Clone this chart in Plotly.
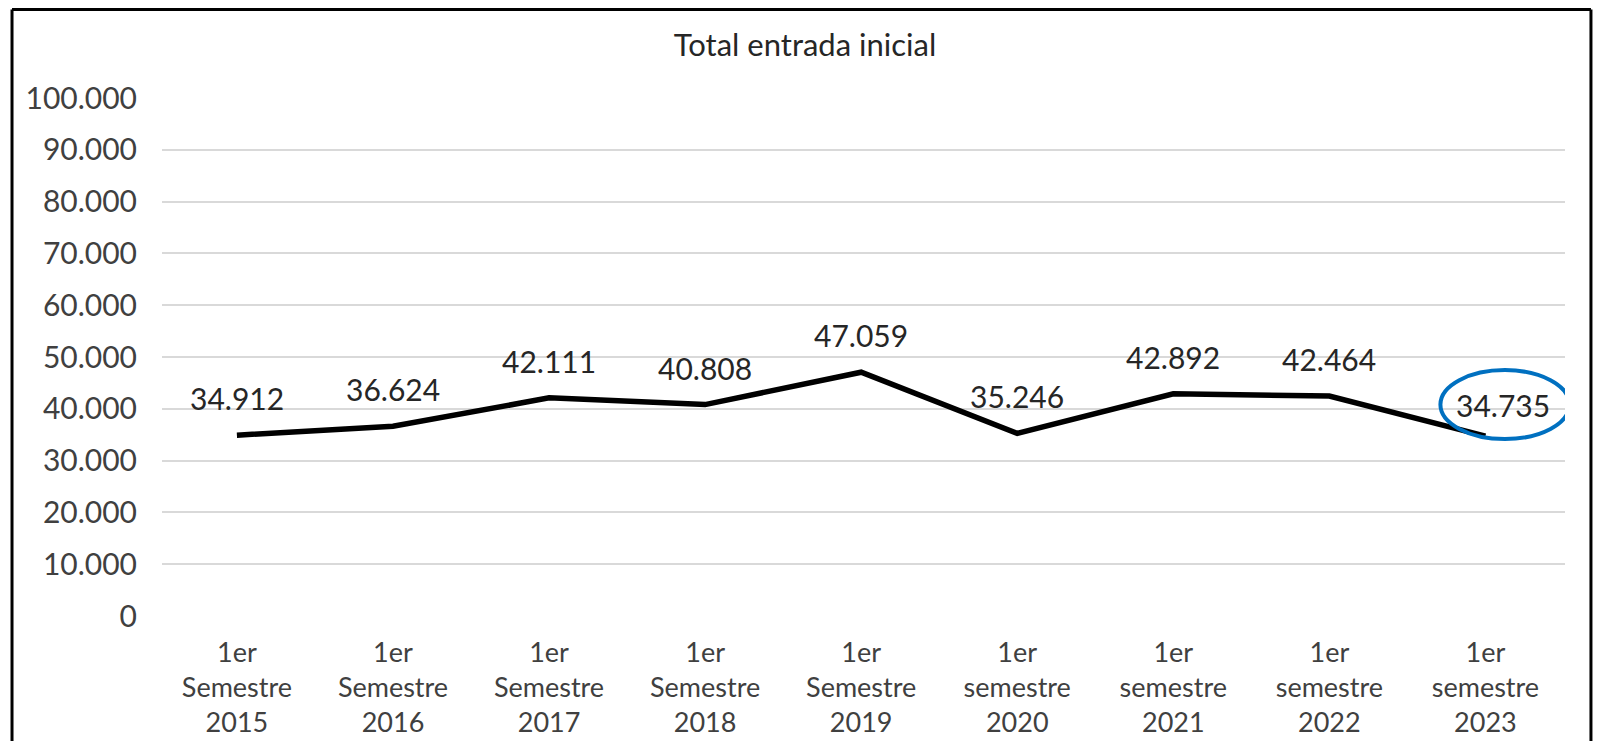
import plotly.graph_objects as go

# Datos
periodos = [
    "1er<br>Semestre<br>2015",
    "1er<br>Semestre<br>2016",
    "1er<br>Semestre<br>2017",
    "1er<br>Semestre<br>2018",
    "1er<br>Semestre<br>2019",
    "1er<br>semestre<br>2020",
    "1er<br>semestre<br>2021",
    "1er<br>semestre<br>2022",
    "1er<br>semestre<br>2023",
]
entrada = [34912, 36624, 42111, 40808, 47059, 35246, 42892, 42464, 34735]
etiquetas = ["34.912", "36.624", "42.111", "40.808", "47.059", "35.246", "42.892", "42.464", "34.735"]
y_ticks = [0, 10000, 20000, 30000, 40000, 50000, 60000, 70000, 80000, 90000, 100000]
y_tick_text = ["0", "10.000", "20.000", "30.000", "40.000", "50.000", "60.000",
               "70.000", "80.000", "90.000", "100.000"]

fuente = "Lato"
W, H = 1585, 733  # cabe en la ventana con el margen de 8 px del body

fig = go.Figure()
fig.add_trace(
    go.Scatter(
        x=periodos,
        y=entrada,
        mode="lines",
        line=dict(color="black", width=5.5),
        hoverinfo="skip",
    )
)

# Etiquetas de datos (la última desplazada, como en el original)
for i, (x, y, t) in enumerate(zip(periodos, entrada, etiquetas)):
    ultimo = i == len(periodos) - 1
    fig.add_annotation(
        x=x,
        y=y,
        text=t,
        showarrow=False,
        xshift=18 if ultimo else 0,
        yshift=31 if ultimo else 37,
        font=dict(family=fuente, size=30, color="#262626"),
    )

# Elipse azul alrededor del último valor
fig.add_shape(
    type="circle",
    xref="x",
    yref="y",
    xsizemode="pixel",
    ysizemode="pixel",
    xanchor=8,
    yanchor=entrada[-1],
    x0=-45,
    x1=84,
    y0=-3,
    y1=66,
    line=dict(color="#0070C0", width=4),
)

# Marco del gráfico (izquierda, arriba, derecha; el borde inferior queda fuera)
marco_x0, marco_x1, marco_y1, marco_y0 = -0.1069, 1.0185, 1.1709, -0.4
for x0, y0, x1, y1 in [
    (marco_x0, marco_y0, marco_x0, marco_y1),
    (marco_x0, marco_y1, marco_x1, marco_y1),
    (marco_x1, marco_y0, marco_x1, marco_y1),
]:
    fig.add_shape(
        type="line",
        xref="paper",
        yref="paper",
        x0=x0,
        y0=y0,
        x1=x1,
        y1=y1,
        line=dict(color="black", width=3),
        layer="above",
    )

fig.update_layout(
    width=W,
    height=H,
    margin=dict(l=154, r=28, t=90, b=125),
    paper_bgcolor="white",
    plot_bgcolor="white",
    showlegend=False,
    title=dict(
        text="Total entrada inicial",
        x=797 / W,
        xanchor="center",
        y=1 - 37 / H,
        yanchor="middle",
        font=dict(family=fuente, size=31, color="#262626"),
    ),
)
fig.update_xaxes(
    range=[-0.48, 8.51],
    showgrid=False,
    showline=False,
    zeroline=False,
    automargin=False,
    tickfont=dict(family=fuente, size=27, color="#404040"),
    ticklabelstandoff=18,
)
fig.update_yaxes(
    range=[0, 100000],
    tickvals=y_ticks,
    ticktext=y_tick_text,
    showgrid=True,
    gridcolor="#d9d9d9",
    gridwidth=1.5,
    zeroline=False,
    showline=False,
    automargin=False,
    tickfont=dict(family=fuente, size=30, color="#404040"),
    ticklabelstandoff=24,
)

fig.write_html("out.html")
